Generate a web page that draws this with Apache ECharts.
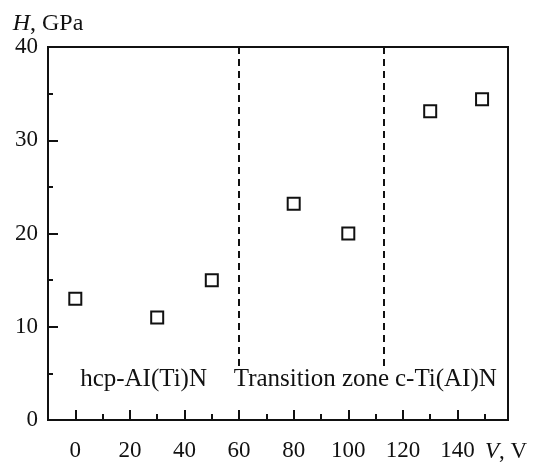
<!DOCTYPE html>
<html>
<head>
<meta charset="utf-8">
<script src="https://cdn.jsdelivr.net/npm/echarts@6/dist/echarts.min.js"></script>
<style>
  html, body { margin: 0; padding: 0; background: #fff; }
  #main { width: 535px; height: 462px; }
</style>
</head>
<body>
<div id="main"></div>
<script>
// data
var voltage = [0, 30, 50, 80, 100, 130, 149];
var hardness = [13, 11, 15, 23.2, 20, 33.1, 34.4];
var xLabels = [0, 20, 40, 60, 80, 100, 120, 140];
var xMinorTicks = [10, 30, 50, 70, 90, 110, 130, 150];
var zoneBounds = [-10, 60, 113, 158.5];
var zoneNames = ['hcp-AI(Ti)N', 'Transition zone', 'c-Ti(AI)N'];

var font = 'Liberation Serif';
var ink = '#111';

var myChart = echarts.init(document.getElementById('main'));

var points = [];
for (var i = 0; i < voltage.length; i++) {
    points.push([voltage[i], hardness[i]]);
}

var areas = [];
for (var i = 0; i < zoneNames.length; i++) {
    areas.push([
        { xAxis: zoneBounds[i], yAxis: 0, name: zoneNames[i] },
        { xAxis: zoneBounds[i + 1], yAxis: 40 }
    ]);
}

// dashed zone borders
var borders = [];
for (var i = 1; i < zoneBounds.length - 1; i++) {
    borders.push([
        { coord: [zoneBounds[i], 40] },
        { coord: [zoneBounds[i], 5.5] }
    ]);
}

var option = {
    backgroundColor: '#fff',
    animation: false,
    grid: {
        left: 48, right: 27, top: 47, bottom: 38,
        show: true,
        borderColor: ink,
        borderWidth: 2,
        backgroundColor: '#fff'
    },
    xAxis: [{
        type: 'value',
        min: zoneBounds[0],
        max: zoneBounds[3],
        splitLine: { show: false },
        axisLine: { onZero: false, lineStyle: { color: ink, width: 2 } },
        axisTick: {
            inside: true, length: 10,
            customValues: xLabels,
            lineStyle: { color: ink, width: 2 }
        },
        axisLabel: {
            customValues: xLabels,
            margin: 19,
            color: ink,
            fontFamily: font,
            fontSize: 23
        }
    }, {
        type: 'value',
        min: zoneBounds[0],
        max: zoneBounds[3],
        position: 'bottom',
        splitLine: { show: false },
        axisLine: { show: false, onZero: false },
        axisLabel: { show: false },
        axisTick: {
            inside: true, length: 6,
            customValues: xMinorTicks,
            lineStyle: { color: ink, width: 2 }
        }
    }],
    yAxis: {
        type: 'value',
        min: 0,
        max: 40,
        interval: 10,
        name: '{i|H}, GPa',
        nameLocation: 'end',
        nameGap: 9,
        nameTextStyle: {
            color: ink, fontFamily: font, fontSize: 24,
            rich: { i: { fontStyle: 'italic', fontFamily: font, fontSize: 24, color: ink } }
        },
        splitLine: { show: false },
        axisLine: { onZero: false, lineStyle: { color: ink, width: 2 } },
        axisTick: { inside: true, length: 10, lineStyle: { color: ink, width: 2 } },
        minorTick: { show: true, splitNumber: 2, length: 5, lineStyle: { color: ink, width: 2 } },
        axisLabel: { margin: 10, color: ink, fontFamily: font, fontSize: 23 }
    },
    graphic: [{
        type: 'text',
        left: 485,
        top: 440,
        style: {
            text: '{i|V}, V',
            fill: ink,
            font: '23px "Liberation Serif"',
            rich: { i: { fontStyle: 'italic', fontFamily: font, fontSize: 23, fill: ink } }
        }
    }],
    series: [{
        type: 'scatter',
        data: points,
        symbol: 'rect',
        symbolSize: 12,
        itemStyle: { color: '#fff', borderColor: ink, borderWidth: 2, opacity: 1 },
        markArea: {
            silent: true,
            itemStyle: { color: 'rgba(0,0,0,0)' },
            label: {
                show: true,
                position: 'insideBottom',
                distance: 28,
                color: ink,
                fontFamily: font,
                fontSize: 25
            },
            data: areas
        },
        markLine: {
            silent: true,
            symbol: 'none',
            label: { show: false },
            lineStyle: { color: ink, width: 2, type: [7, 5] },
            data: borders
        }
    }]
};

myChart.setOption(option);
</script>
</body>
</html>
